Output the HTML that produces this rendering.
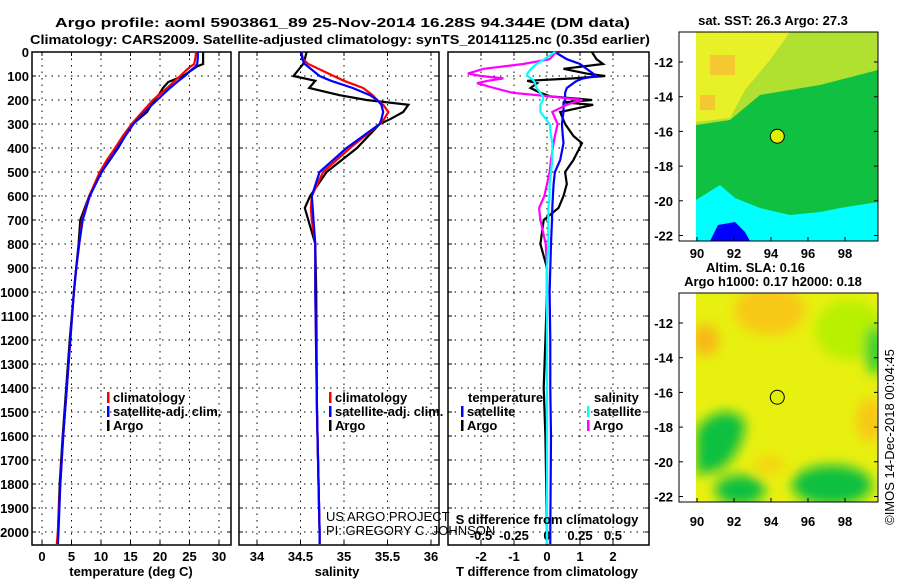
<!DOCTYPE html>
<html><head><meta charset="utf-8"><style>
body{margin:0;background:#fff}
svg{display:block;font-family:"Liberation Sans",sans-serif}
.b{font-weight:bold;font-size:13px}
.n{font-size:13px}
</style></head><body>
<svg id="s" width="900" height="580" viewBox="0 0 900 580">
<text class="b" x="55" y="27" font-size="15" textLength="575" lengthAdjust="spacingAndGlyphs">Argo profile: aoml 5903861_89 25-Nov-2014 16.28S 94.344E (DM data)</text>
<text class="b" x="30" y="44" font-size="15" textLength="620" lengthAdjust="spacingAndGlyphs">Climatology: CARS2009. Satellite-adjusted climatology: synTS_20141125.nc (0.35d earlier)</text>
<g id="g"></g>
</svg>
<script>
const depthT=[0,25,50,60,75,100,125,150,175,200,250,300,350,400,450,500,600,700,800,900,1000,1200,1400,1600,1800,2000,2050];
const tClim=[26.1,26.0,25.8,25.2,24.5,23.4,22.3,21.2,20.0,18.8,17.0,15.2,13.7,12.4,11.0,9.8,8.0,6.8,6.3,5.8,5.4,4.8,4.2,3.6,3.1,2.7,2.5];
const tSat=[26.4,26.4,26.3,26.0,25.3,24.2,22.9,21.7,20.6,19.5,17.4,15.5,14.1,12.8,11.4,10.1,8.1,6.9,6.3,5.8,5.4,4.8,4.2,3.6,3.1,2.8,2.7];
const tArgo=[27.3,27.3,27.3,26.3,25.4,23.9,21.4,20.5,19.9,19.0,17.8,15.4,14.1,12.9,11.5,10.1,8.0,6.5,6.2,5.8,5.4,4.7,4.1,3.5,3.0,2.7,2.6];
const depthS=[0,30,50,100,120,150,180,200,220,250,280,300,400,500,600,650,700,800,1000,1500,2000,2050];
const sClim=[34.51,34.53,34.59,34.88,35.0,35.22,35.33,35.38,35.45,35.51,35.46,35.41,35.07,34.76,34.63,34.62,34.63,34.67,34.67,34.69,34.72,34.72];
const sSat=[34.51,34.52,34.55,34.72,34.85,35.1,35.3,35.38,35.43,35.45,35.43,35.41,35.03,34.72,34.63,34.64,34.65,34.67,34.67,34.69,34.72,34.72];
const sArgo=[34.57,34.55,34.53,34.42,34.67,34.6,34.95,35.26,35.74,35.68,35.53,35.41,35.15,34.8,34.61,34.55,34.59,34.67,34.68,34.69,34.72,34.72];
const depthD=[0,30,50,70,90,100,110,120,130,150,170,185,200,210,220,250,300,350,380,450,500,550,600,650,700,800,900,1000,1200,1400,1600,2000,2050];
const dTSat=[0.24,0.6,1.0,1.2,1.4,1.5,1.1,0.9,0.8,0.6,0.55,0.55,0.55,0.5,0.5,0.5,0.45,0.48,0.5,0.4,0.24,0.2,0.18,0.16,0.15,0.12,0.1,0.08,0.1,0.1,0.12,0.1,0.1];
const dTArgo=[1.36,1.5,1.7,0.5,1.2,1.76,0.8,-0.6,-0.3,-0.5,-0.2,0.1,1.36,0.5,1.4,0.4,0.55,0.8,1.06,0.8,0.55,0.6,0.5,0.35,-0.1,-0.2,0,0,-0.05,-0.1,-0.05,0,0];
const dSArgo=[0.07,0.02,-0.18,-0.48,-0.6,-0.5,-0.33,-0.45,-0.53,-0.4,-0.26,0.02,0.27,0.2,0.15,0.04,0.08,0.06,0.05,0.03,0.02,0,-0.02,-0.06,-0.05,-0.01,0,0,0,0,0,0,0];
const dSSat=[0.06,-0.02,-0.08,-0.12,-0.15,-0.15,-0.12,-0.1,-0.09,-0.08,-0.05,-0.03,-0.03,-0.04,-0.05,-0.05,0.02,0.03,0.04,0.04,0.03,0.02,0.02,0.01,0.01,0.01,0,0,0,0,0,0,0];
const depthTicks=[0,100,200,300,400,500,600,700,800,900,1000,1100,1200,1300,1400,1500,1600,1700,1800,1900,2000];
const tTicks=[0,5,10,15,20,25,30];
const sTicks=[34,34.5,35,35.5,36];
const sTickLabels=["34","34.5","35","35.5","36"];
const dtTicks=[-2,-1,0,1,2];
const dsTicks=[-0.5,-0.25,0,0.25,0.5];
const latTicks=[-12,-14,-16,-18,-20,-22];
const lonTicks=[90,92,94,96,98];

const NS='http://www.w3.org/2000/svg';
const G=document.getElementById('g');
function mk(t,a,p){const e=document.createElementNS(NS,t);for(const k in a)e.setAttribute(k,a[k]);(p||G).appendChild(e);return e;}
const yD=d=>52+d*0.24;
const xT=v=>42+v*5.9;
const xS=v=>257+(v-34)*87;
const xDT=v=>547+v*33;
const xDS=v=>547+v*132;
const panels=[[32,231],[239,439],[448,649]];
panels.forEach((p,i)=>{
  const r=mk('rect',{x:p[0],y:52,width:p[1]-p[0],height:493,fill:'none',stroke:'#000','stroke-width':1.5});
  
  
  depthTicks.forEach(d=>{
    const l=mk('line',{x1:p[0],x2:p[1],y1:yD(d),y2:yD(d),stroke:'#000','stroke-dasharray':'1.5 5'});
    
    
    mk('line',{x1:p[0],x2:p[0]+4,y1:yD(d),y2:yD(d),stroke:'#000'});
    mk('line',{x1:p[1]-4,x2:p[1],y1:yD(d),y2:yD(d),stroke:'#000'});
  });
});
depthTicks.forEach(d=>{
  const t=mk('text',{x:29,y:yD(d)+5,'text-anchor':'end',class:'b'});t.textContent=d;
  
  
});
function vgrid(ticks,fx,p,labels,ly){
  ticks.forEach((v,i)=>{
    const x=fx(v);
    const l=mk('line',{x1:x,x2:x,y1:52,y2:545,stroke:'#000','stroke-dasharray':'1.5 5'});
    
    
    mk('line',{x1:x,x2:x,y1:541,y2:545,stroke:'#000'});mk('line',{x1:x,x2:x,y1:52,y2:56,stroke:'#000'});
    const t=mk('text',{x:x,y:ly,'text-anchor':'middle',class:'b'});t.textContent=labels?labels[i]:v;
    
    
  });
}
vgrid(tTicks,xT,panels[0],null,561);
vgrid(sTicks,xS,panels[1],sTickLabels,561);
vgrid(dtTicks,xDT,panels[2],null,561);
dsTicks.forEach(v=>{const t=mk('text',{x:xDS(v),y:540,'text-anchor':'middle',class:'b'});t.textContent=v;
  
  });
function line(ds,vs,fx,col,name,w){
  const pts=ds.map((d,i)=>fx(vs[i]).toFixed(1)+','+yD(d).toFixed(1)).join(' ');
  const e=mk('polyline',{points:pts,fill:'none',stroke:col,'stroke-width':w||2.2,'stroke-linejoin':'miter'});
  
  
}
line(depthT,tArgo,xT,'#000','temp-argo-line');
line(depthT,tClim,xT,'#f00','temp-climatology-line');
line(depthT,tSat,xT,'#00f','temp-satellite-line');
line(depthS,sArgo,xS,'#000','sal-argo-line');
line(depthS,sClim,xS,'#f00','sal-climatology-line');
line(depthS,sSat,xS,'#00f','sal-satellite-line');
line(depthD,dTArgo,xDT,'#000','tdiff-argo-line');
line(depthD,dTSat,xDT,'#00f','tdiff-satellite-line');
line(depthD,dSArgo,xDS,'#f0f','sdiff-argo-line');
line(depthD,dSSat,xDS,'#0ff','sdiff-satellite-line');
function txt(x,y,s,cls,name,anchor){const t=mk('text',{x:x,y:y,class:cls,'text-anchor':anchor||'start'});t.textContent=s;
  
  return t;}
function leg(x,y,col,s,name){mk('rect',{x:x,y:y-10,width:2.5,height:11,fill:col});txt(x+6,y,s,'b',name);}
[[107,'#f00','climatology'],[107,'#00f','satellite-adj. clim.'],[107,'#000','Argo']].forEach((a,i)=>leg(a[0],402+i*14,a[1],a[2],'legend-temp-'+i));
[[329,'#f00','climatology'],[329,'#00f','satellite-adj. clim.'],[329,'#000','Argo']].forEach((a,i)=>leg(a[0],402+i*14,a[1],a[2],'legend-sal-'+i));
txt(468,402,'temperature','b','legend-diff-temp-header');
txt(594,402,'salinity','b','legend-diff-sal-header');
leg(461,416,'#00f','satellite','legend-tdiff-sat');leg(461,430,'#000','Argo','legend-tdiff-argo');
leg(587,416,'#0ff','satellite','legend-sdiff-sat');leg(587,430,'#f0f','Argo','legend-sdiff-argo');
txt(131,576,'temperature (deg C)','b','x-axis-title-temp','middle');
txt(337,576,'salinity','b','x-axis-title-sal','middle');
txt(547,576,'T difference from climatology','b','x-axis-title-tdiff','middle');
txt(547,524,'S difference from climatology','b','x-axis-title-sdiff','middle');
txt(326,521,'US ARGO PROJECT','n','credit-project');
txt(326,535,'PI: GREGORY C. JOHNSON','n','credit-pi');

const mx=lon=>697+(lon-90)*18.5;
function map(y0,top,name){
  const ly=lat=>y0+30+(-12-lat)*17.35;
  const f=mk('rect',{x:679,y:y0,width:199,height:209,fill:'#fff',stroke:'none'});
  
  
  return ly;
}
let ly=map(32,true,'sst-map');
const cl=mk('clipPath',{id:'c1'});mk('rect',{x:696,y:32,width:182,height:209},cl);
const g1=mk('g',{'clip-path':'url(#c1)'});
mk('rect',{x:696,y:32,width:182,height:209,fill:'#10c040'},g1);
mk('path',{d:'M696 32 H878 V70 L820 85 L760 95 L730 120 L696 125 Z',fill:'#b0e030'},g1);
mk('path',{d:'M696 32 H790 L770 60 L745 90 L730 118 L696 122 Z',fill:'#e8f028'},g1);
mk('path',{d:'M710 55 h25 v20 h-25z M700 95 h15 v15 h-15z',fill:'#f4c830'},g1);
mk('path',{d:'M696 200 L720 185 L735 198 L760 208 L790 215 L820 212 L840 208 L878 202 V241 H696 Z',fill:'#00ffff'},g1);
mk('path',{d:'M710 241 L718 225 L735 222 L745 232 L750 241 Z',fill:'#0000ff'},g1);
mk('rect',{x:679,y:32,width:199,height:209,fill:'none',stroke:'#000'});
txt(773,25,'sat. SST: 26.3 Argo: 27.3','b','sst-map-title','middle');
latTicks.forEach(l=>{txt(673,ly(l)+5,l,'b','sst-lat-label','end');mk('line',{x1:679,x2:683,y1:ly(l),y2:ly(l),stroke:'#000'});mk('line',{x1:874,x2:878,y1:ly(l),y2:ly(l),stroke:'#000'});});
lonTicks.forEach(l=>{txt(mx(l),258,l,'b','sst-lon-label','middle');mk('line',{x1:mx(l),x2:mx(l),y1:237,y2:241,stroke:'#000'});});
const c1=mk('circle',{cx:mx(94.34),cy:ly(-16.28),r:7,fill:'#e0f000',stroke:'#000'});


ly=map(293,false,'sla-map');
const cl2=mk('clipPath',{id:'c2'});mk('rect',{x:696,y:293,width:182,height:209},cl2);
const fl=mk('filter',{id:'bl'});mk('feGaussianBlur',{stdDeviation:6},fl);
const g2=mk('g',{'clip-path':'url(#c2)'});
mk('rect',{x:696,y:293,width:182,height:209,fill:'#e8f010'},g2);
const g3=mk('g',{filter:'url(#bl)'},g2);
mk('ellipse',{cx:770,cy:310,rx:35,ry:25,fill:'#f8c818'},g3);
mk('ellipse',{cx:705,cy:340,rx:14,ry:16,fill:'#f8b818'},g3);
mk('ellipse',{cx:870,cy:420,rx:14,ry:22,fill:'#f8c818'},g3);
mk('ellipse',{cx:850,cy:330,rx:35,ry:30,fill:'#b8f000'},g3);
mk('ellipse',{cx:875,cy:350,rx:10,ry:25,fill:'#30d030'},g3);
mk('path',{d:'M696 430 Q720 400 745 420 Q745 450 720 470 L696 475 Z',fill:'#10c040'},g3);
mk('ellipse',{cx:740,cy:490,rx:25,ry:15,fill:'#10c040'},g3);
mk('ellipse',{cx:832,cy:485,rx:40,ry:20,fill:'#10c040'},g3);
mk('ellipse',{cx:770,cy:465,rx:15,ry:8,fill:'#f8d010'},g3);
mk('rect',{x:679,y:293,width:199,height:209,fill:'none',stroke:'#000'});
txt(706,272,'Altim. SLA: 0.16','b','sla-map-title');
txt(773,286,'Argo h1000: 0.17 h2000: 0.18','b','sla-map-subtitle','middle');
latTicks.forEach(l=>{txt(673,ly(l)+5,l,'b','sla-lat-label','end');mk('line',{x1:679,x2:683,y1:ly(l),y2:ly(l),stroke:'#000'});mk('line',{x1:874,x2:878,y1:ly(l),y2:ly(l),stroke:'#000'});});
lonTicks.forEach(l=>{txt(mx(l),526,l,'b','sla-lon-label','middle');mk('line',{x1:mx(l),x2:mx(l),y1:498,y2:502,stroke:'#000'});});
const c2=mk('circle',{cx:mx(94.34),cy:ly(-16.28),r:7,fill:'#e0f000',stroke:'#000'});


const cr=txt(0,0,'©IMOS 14-Dec-2018 00:04:45','n','imos-timestamp','middle');
cr.setAttribute('transform','translate(894,437) rotate(-90)');
</script>
</body></html>
